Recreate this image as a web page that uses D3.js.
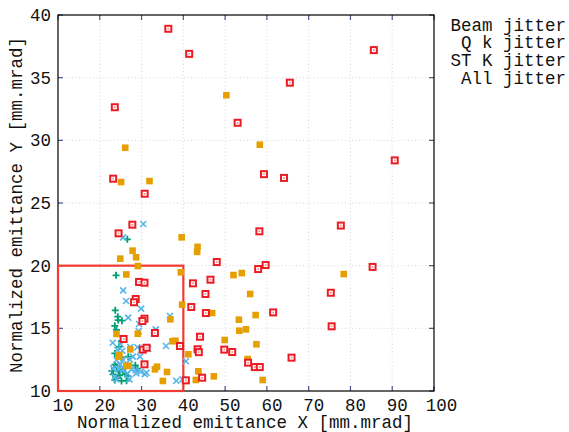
<!DOCTYPE html>
<html>
<head>
<meta charset="utf-8">
<script src="https://cdn.jsdelivr.net/npm/d3@7"></script>
<style>
  body { margin: 0; background: #fff; }
  text { font-family: "Liberation Mono", "Courier New", monospace; fill: #111; }
</style>
</head>
<body>
<div id="container"></div>
<script>
// tick values and labels
var xTicks = [10, 20, 30, 40, 50, 60, 70, 80, 90, 100];
var yTicks = [10, 15, 20, 25, 30, 35, 40];
var legendLabels = ["Beam jitter", "Q k jitter", "ST K jitter", "All jitter"];
var xTitle = "Normalized emittance X [mm.mrad]";
var yTitle = "Normalized emittance Y [mm.mrad]";

// highlighted region [x0, x1], [y0, y1]
var boxX = [10, 40];
var boxY = [10, 20];

// [emittance X, emittance Y]
var beamJitter = [
  [26.6, 22.1], [23.9, 19.23], [23.7, 16.44], [24.3, 15.93], [24.4, 15.66], [25.3, 15.61],
  [23.6, 15.2], [24.0, 14.87], [25.2, 14.0], [24.6, 13.53], [23.6, 13.0], [25.1, 12.69],
  [26.8, 12.74], [23.6, 12.1], [24.0, 11.94], [24.5, 11.57], [23.2, 11.33], [24.8, 11.25],
  [26.1, 11.35], [23.6, 10.88], [25.2, 10.8], [26.4, 10.82], [28.5, 12.05], [29.0, 11.78],
  [26.7, 11.2], [22.9, 11.6], [25.5, 11.7], [24.2, 11.05]
];
var qkJitter = [
  [30.4, 23.32], [25.6, 22.26], [25.6, 18.03], [26.3, 17.18], [29.9, 16.57], [26.8, 15.85],
  [29.4, 15.35], [29.3, 14.79], [33.4, 14.92], [36.8, 15.98], [23.1, 13.85], [25.0, 13.75],
  [27.3, 13.51], [24.2, 13.27], [25.4, 13.21], [29.0, 13.49], [29.9, 13.27], [31.6, 13.37],
  [35.85, 13.59], [24.0, 12.47], [25.6, 12.47], [27.2, 12.5], [27.9, 12.74], [29.6, 12.74],
  [23.2, 11.78], [24.5, 11.75], [25.6, 11.67], [27.6, 11.73], [28.6, 11.67], [29.8, 11.54],
  [30.8, 11.35], [23.6, 11.14], [24.0, 10.93], [27.1, 10.93], [28.7, 11.41], [31.2, 11.46],
  [38.3, 10.82], [40.6, 12.37], [39.8, 10.93], [24.9, 12.1], [26.7, 11.4]
];
var stkJitter = [
  [39.6, 22.26], [43.4, 21.5], [43.3, 21.1], [39.4, 19.47], [52.0, 19.25], [54.0, 19.41],
  [78.4, 19.33], [56.0, 17.74], [39.7, 16.89], [46.9, 16.22], [53.3, 15.69], [57.3, 16.06],
  [53.4, 14.81], [55.0, 14.92], [49.9, 14.07], [57.5, 13.73], [41.2, 12.93], [55.4, 12.55],
  [43.6, 11.57], [43.0, 10.88], [47.3, 11.17], [59.0, 10.88], [50.3, 33.6], [58.3, 29.65],
  [26.1, 29.41], [25.1, 26.67], [31.9, 26.75], [27.85, 21.2], [28.7, 20.67], [24.9, 20.56],
  [29.1, 19.97], [26.35, 19.3], [36.9, 15.72], [24.0, 14.55], [29.1, 14.57], [37.4, 13.97],
  [38.1, 14.01], [27.3, 13.32], [24.7, 12.87], [24.5, 12.74], [26.35, 12.0], [26.9, 12.02],
  [33.7, 11.94], [33.2, 11.73], [36.1, 11.52], [35.1, 10.8]
];
var allJitter = [
  [36.4, 38.9], [41.4, 36.9], [85.6, 37.2], [65.5, 34.6], [53.0, 31.4], [59.3, 27.3],
  [64.1, 27.0], [90.6, 28.4], [58.2, 22.74], [77.7, 23.2], [23.6, 32.64], [23.2, 26.94],
  [30.75, 25.74], [27.8, 23.27], [24.5, 22.58], [48.0, 20.29], [57.9, 19.73], [59.7, 20.05],
  [85.3, 19.9], [42.3, 18.59], [46.5, 18.88], [45.3, 17.74], [75.3, 17.84], [41.9, 16.7],
  [45.4, 16.22], [61.5, 16.27], [75.5, 15.16], [44.0, 14.33], [43.4, 13.33], [43.7, 13.1],
  [49.8, 13.3], [51.7, 13.11], [55.5, 12.26], [57.1, 11.91], [58.3, 11.91], [65.9, 12.66],
  [44.5, 11.06], [40.6, 10.85], [39.2, 13.59], [29.4, 18.7], [30.7, 18.64], [28.6, 17.34],
  [28.2, 17.08], [30.7, 15.77], [30.2, 15.58], [33.2, 14.63], [25.7, 14.15], [30.3, 13.3],
  [31.2, 13.45], [30.7, 12.13]
];

var W = 569, H = 432;
var plotLeft = 58, plotRight = 434, plotTop = 15, plotBottom = 391;

var svg = d3.select("#container")
  .append("svg")
  .attr("width", W)
  .attr("height", H)
  .style("background", "#fff");

var x = d3.scaleLinear().domain([10, 100]).range([plotLeft, plotRight]);
var y = d3.scaleLinear().domain([10, 40]).range([plotBottom, plotTop]);

// grid lines (dotted)
var grid = svg.append("g").attr("stroke", "#c9cbdc").attr("stroke-width", 0.8).attr("stroke-dasharray", "1,2.5");
grid.selectAll(".gx").data(xTicks.slice(1, -1)).enter().append("line")
  .attr("x1", d => x(d)).attr("x2", d => x(d)).attr("y1", plotTop).attr("y2", plotBottom);
grid.selectAll(".gy").data(yTicks.slice(1, -1)).enter().append("line")
  .attr("x1", plotLeft).attr("x2", plotRight).attr("y1", d => y(d)).attr("y2", d => y(d));

// ticks on all four sides, pointing inward
var tickLen = 5, tickColor = "#46548a";
var ticks = svg.append("g").attr("stroke", tickColor).attr("stroke-width", 1.2);
xTicks.forEach(function (d) {
  ticks.append("line").attr("x1", x(d)).attr("x2", x(d)).attr("y1", plotBottom).attr("y2", plotBottom - tickLen);
  ticks.append("line").attr("x1", x(d)).attr("x2", x(d)).attr("y1", plotTop).attr("y2", plotTop + tickLen);
});
yTicks.forEach(function (d) {
  ticks.append("line").attr("x1", plotLeft).attr("x2", plotLeft + tickLen).attr("y1", y(d)).attr("y2", y(d));
  ticks.append("line").attr("x1", plotRight).attr("x2", plotRight - tickLen).attr("y1", y(d)).attr("y2", y(d));
});

// frame
svg.append("rect")
  .attr("x", plotLeft).attr("y", plotTop)
  .attr("width", plotRight - plotLeft).attr("height", plotBottom - plotTop)
  .attr("fill", "none").attr("stroke", "#000").attr("stroke-width", 1.2);

// highlighted region
svg.append("rect")
  .attr("x", x(boxX[0])).attr("y", y(boxY[1]))
  .attr("width", x(boxX[1]) - x(boxX[0]))
  .attr("height", y(boxY[0]) - y(boxY[1]))
  .attr("fill", "none").attr("stroke", "#f03a32").attr("stroke-width", 2.2);

// Beam jitter: green plus
svg.append("g").selectAll("path").data(beamJitter).enter().append("path")
  .attr("transform", d => "translate(" + x(d[0]) + "," + y(d[1]) + ")")
  .attr("d", "M-3.5,0H3.5M0,-3.5V3.5")
  .attr("stroke", "#009e73").attr("stroke-width", 1.8).attr("fill", "none");

// Q k jitter: blue cross
svg.append("g").selectAll("path").data(qkJitter).enter().append("path")
  .attr("transform", d => "translate(" + x(d[0]) + "," + y(d[1]) + ")")
  .attr("d", "M-3,-3L3,3M-3,3L3,-3")
  .attr("stroke", "#56b4e9").attr("stroke-width", 1.6).attr("fill", "none");

// ST K jitter: orange filled square
svg.append("g").selectAll("rect").data(stkJitter).enter().append("rect")
  .attr("x", d => x(d[0]) - 3.3).attr("y", d => y(d[1]) - 3.3)
  .attr("width", 6.6).attr("height", 6.6)
  .attr("fill", "#e69f00");

// All jitter: red open square with dot
var red = svg.append("g").selectAll("g").data(allJitter).enter().append("g")
  .attr("transform", d => "translate(" + x(d[0]) + "," + y(d[1]) + ")");
red.append("rect")
  .attr("x", -3).attr("y", -3).attr("width", 6).attr("height", 6)
  .attr("fill", "#fff").attr("stroke", "#ec1c24").attr("stroke-width", 2);
red.append("rect")
  .attr("x", -0.8).attr("y", -0.8).attr("width", 1.6).attr("height", 1.6)
  .attr("fill", "#f08080");

// tick labels
var fs = 17.5;
svg.append("g").selectAll("text").data(xTicks).enter().append("text")
  .attr("x", d => x(d) + 2.5 * String(d).length)
  .attr("y", 411)
  .attr("text-anchor", "middle")
  .style("font-size", fs + "px")
  .text(d => d);
svg.append("g").selectAll("text").data(yTicks).enter().append("text")
  .attr("x", 51)
  .attr("y", d => y(d))
  .attr("dy", "0.35em")
  .attr("text-anchor", "end")
  .style("font-size", fs + "px")
  .text(d => d);

// axis titles
svg.append("text")
  .attr("x", 245).attr("y", 428)
  .attr("text-anchor", "middle")
  .style("font-size", fs + "px")
  .text(xTitle);
svg.append("text")
  .attr("transform", "translate(21.5,205) rotate(-90)")
  .attr("text-anchor", "middle")
  .style("font-size", fs + "px")
  .text(yTitle);

// key (text only)
svg.append("g").selectAll("text").data(legendLabels).enter().append("text")
  .attr("x", 566)
  .attr("y", (d, i) => 30.5 + i * 17.8)
  .attr("text-anchor", "end")
  .style("font-size", fs + "px")
  .text(d => d);
</script>
</body>
</html>
